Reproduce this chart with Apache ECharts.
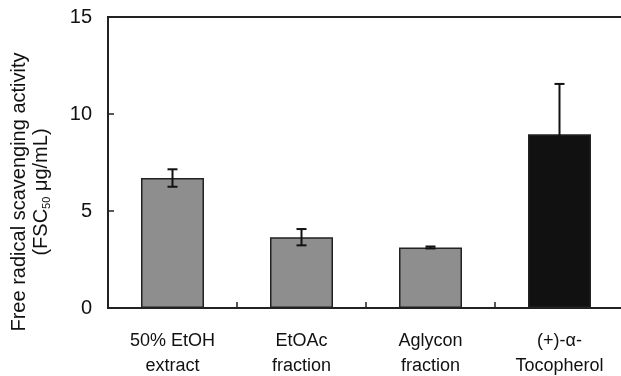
<!DOCTYPE html>
<html>
<head>
<meta charset="utf-8">
<script src="https://cdn.jsdelivr.net/npm/echarts@6/dist/echarts.min.js"></script>
<style>
  html, body { margin: 0; padding: 0; background: #fff; }
  #chart { width: 621px; height: 376px; }
</style>
</head>
<body>
<div id="chart"></div>
<script>
// Samples and their FSC50 values (mean and standard deviation)
const categories = ['50% EtOH\nextract', 'EtOAc\nfraction', 'Aglycon\nfraction', '(+)-α-\nTocopherol'];
const means = [6.7, 3.65, 3.12, 8.95];
const errors = [0.45, 0.42, 0.05, 2.6];
const barColors = ['#8e8e8e', '#8e8e8e', '#8e8e8e', '#111111'];
const yTicks = [0, 5, 10, 15];

const FONT = '"Liberation Sans", Arial, sans-serif';

const chart = echarts.init(document.getElementById('chart'));

const barData = means.map((v, i) => ({
  value: v,
  itemStyle: { color: barColors[i] }
}));
const errData = means.map((v, i) => [i, v - errors[i], v + errors[i]]);

chart.setOption({
  animation: false,
  backgroundColor: '#fff',
  grid: {
    left: 108, top: 17, right: -3, bottom: 68,
    outerBoundsMode: 'none',
    containLabel: false,
    show: true, borderColor: '#222', borderWidth: 2, backgroundColor: 'transparent'
  },
  xAxis: {
    type: 'category',
    data: categories,
    axisLine: { lineStyle: { color: '#222', width: 2 } },
    axisTick: { show: true, inside: true, length: 6, lineStyle: { color: '#222', width: 1.5 } },
    axisLabel: {
      color: '#111', fontFamily: FONT, fontSize: 18, lineHeight: 25,
      margin: 21, interval: 0
    },
    splitLine: { show: false }
  },
  yAxis: {
    type: 'value',
    min: 0, max: 15, interval: 5,
    axisLine: { show: true, lineStyle: { color: '#222', width: 2 } },
    axisTick: { show: true, inside: true, length: 6, lineStyle: { color: '#222', width: 1.5 } },
    axisLabel: {
      color: '#111', fontFamily: FONT, fontSize: 20, margin: 16,
      formatter: v => (yTicks.indexOf(v) >= 0 ? String(v) : '')
    },
    splitLine: { show: false }
  },
  graphic: [{
    type: 'text',
    x: 30, y: 192,
    rotation: Math.PI / 2,
    style: {
      text: 'Free radical scavenging activity\n(FSC{sub|50} μg/mL)',
      fontFamily: FONT, fontSize: 20, lineHeight: 22,
      fill: '#111', align: 'center', verticalAlign: 'middle',
      rich: {
        sub: { fontSize: 11, fontFamily: FONT, fill: '#111', verticalAlign: 'bottom', lineHeight: 22 }
      }
    }
  }],
  series: [{
    type: 'bar',
    data: barData,
    barWidth: 63,
    itemStyle: { borderColor: '#222', borderWidth: 1.5 }
  }, {
    type: 'custom',
    data: errData,
    z: 10,
    renderItem: function (params, api) {
      const x = api.value(0);
      const lo = api.coord([x, api.value(1)]);
      const hi = api.coord([x, api.value(2)]);
      const half = 5;
      const style = { stroke: '#111', lineWidth: 2 };
      return {
        type: 'group',
        children: [
          { type: 'line', shape: { x1: lo[0], y1: lo[1], x2: hi[0], y2: hi[1] }, style },
          { type: 'line', shape: { x1: lo[0] - half, y1: lo[1], x2: lo[0] + half, y2: lo[1] }, style },
          { type: 'line', shape: { x1: hi[0] - half, y1: hi[1], x2: hi[0] + half, y2: hi[1] }, style }
        ]
      };
    }
  }]
});
</script>
</body>
</html>
